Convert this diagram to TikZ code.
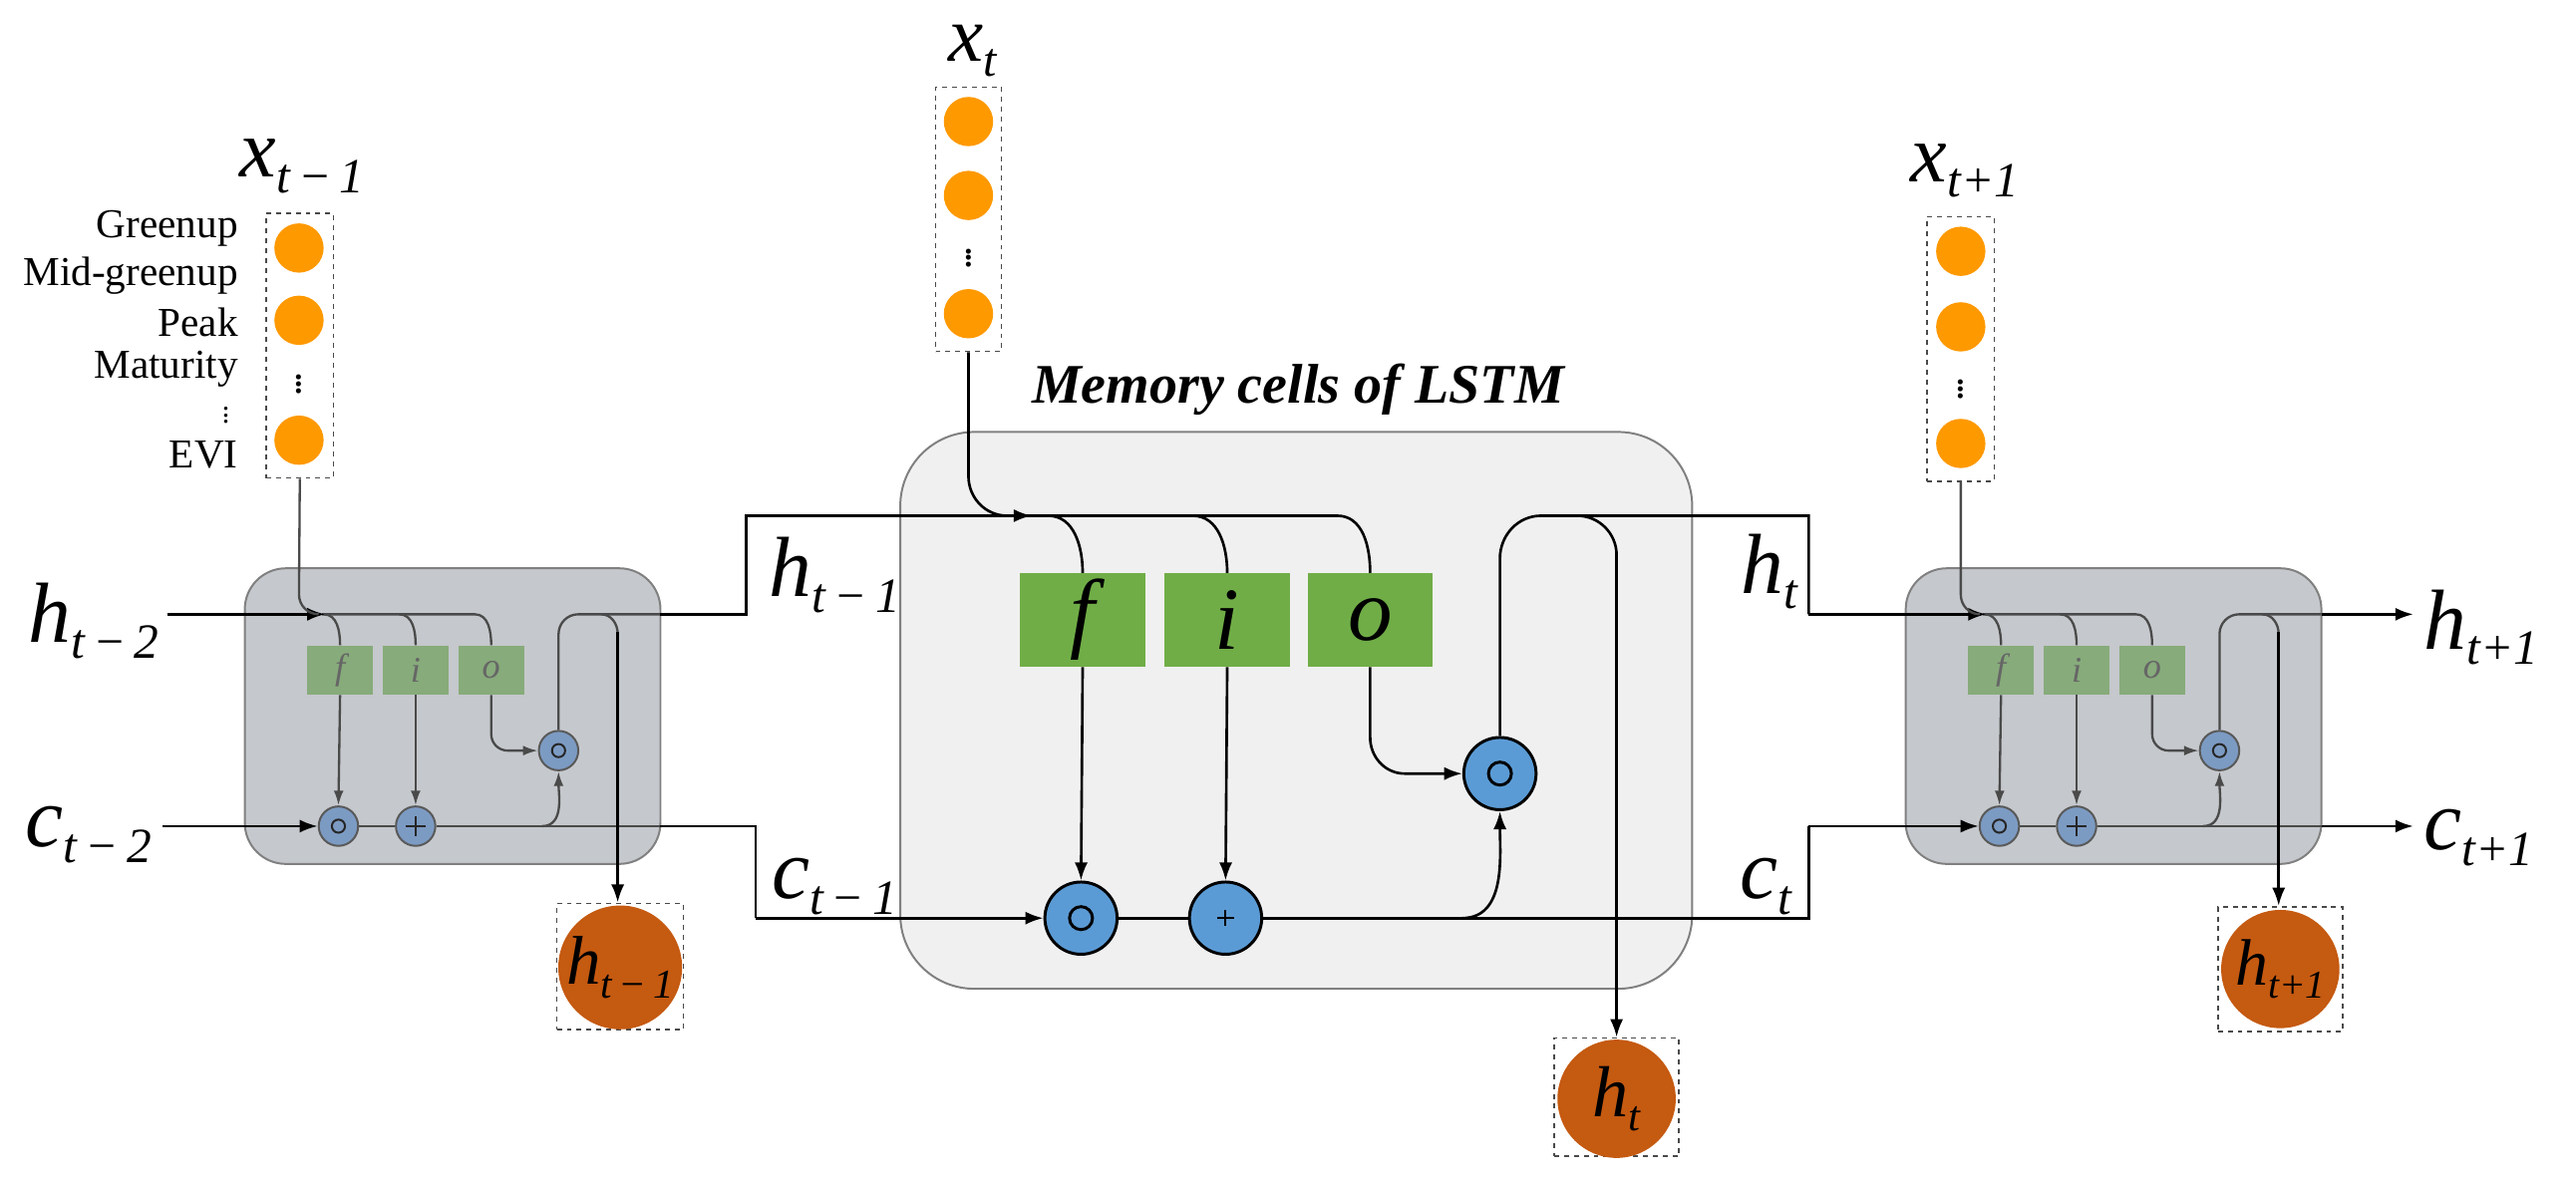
\documentclass[tikz,border=0pt]{standalone}
\usepackage{fontspec}
\setmainfont{Liberation Serif}
\usetikzlibrary{arrows.meta,calc}
\definecolor{orng}{HTML}{FF9900}
\definecolor{brwn}{HTML}{C55A11}
\definecolor{gbig}{HTML}{70AD47}
\definecolor{gsml}{HTML}{87AB7B}
\definecolor{bbig}{HTML}{5B9BD5}
\definecolor{bsml}{HTML}{7C9BC3}
\definecolor{cellS}{HTML}{C5C8CC}
\definecolor{cellB}{HTML}{F0F0F0}
\definecolor{ln}{HTML}{4A4A4A}
\newcommand\vlab[4]{{\fontsize{#3}{#3}\selectfont\itshape #1}{\fontsize{#4}{#4}\selectfont\itshape\raisebox{-0.32em}{#2}}}
\tikzset{
  blk/.style={line width=1.6pt, black},
  blka/.style={blk, -{Latex[length=11pt,width=8pt]}},
  sg/.style={line width=1.4pt, ln},
  sga/.style={sg, -{Latex[length=9pt,width=6pt]}},
  dbox/.style={draw=ln, dashed, line width=1pt, inner sep=0pt},
  inp/.style={circle, fill=orng, minimum size=30pt, inner sep=0pt},
  outc/.style={circle, fill=brwn, minimum size=72pt, inner sep=0pt},
  vd/.style={inner sep=0pt, font=\fontsize{26}{26}\selectfont},
  smallbox/.style={draw=gray, line width=1.2pt, fill=cellS, rounded corners=25pt, minimum width=253pt, minimum height=180pt},
  bigbox/.style={draw=gray, line width=1.2pt, fill=cellB, rounded corners=45pt, minimum width=482pt, minimum height=339pt},
  sgate/.style={fill=gsml, minimum width=40pt, minimum height=30pt, inner sep=0pt, text=gray!80!black, font=\fontsize{22}{22}\selectfont\itshape},
  bgate/.style={fill=gbig, minimum width=76pt, minimum height=57pt, inner sep=0pt, font=\fontsize{54}{54}\selectfont\itshape},
  sop/.style={circle, draw=gray!70!black, line width=1.2pt, fill=bsml, minimum size=24pt, inner sep=0pt},
  bop/.style={circle, draw=black, line width=1.8pt, fill=bbig, minimum size=44pt, inner sep=0pt},
  feat/.style={anchor=east, inner sep=0pt, font=\fontsize{25}{25}\selectfont},
}
\newcommand\smallcell[2]{%
\begin{scope}[xshift=#1pt]
\node[smallbox] (#2box) at (275.5,436) {};
\node[sgate] (#2f) at (207,408) {f};
\node[sgate] (#2i) at (253,408) {i};
\node[sgate] (#2o) at (299,408) {o};
\node[sop] (#2m) at (206,503) {};
\node[sop] (#2p) at (253,503) {};
\node[sop] (#2q) at (340,457) {};
\draw[line width=1.2pt, gray!30!black] (#2m) circle (4pt) (#2q) circle (4pt);
\draw[line width=1.2pt, gray!30!black] ($(#2p)+(-6,0)$) -- ($(#2p)+(6,0)$) ($(#2p)+(0,-6)$) -- ($(#2p)+(0,6)$);
\draw[sg] (196,374) -- (289,374) to[out=0,in=90] (#2o.north);
\draw[sg] (197,374) to[out=0,in=90] (#2f.north);
\draw[sg] (243,374) to[out=0,in=90] (#2i.north);
\draw[sga] (#2f.south) -- (#2m.north);
\draw[sga] (#2i.south) -- (#2p.north);
\draw[sga] (#2o.south) -- (299,447) to[out=-90,in=180] (309,457) -- (#2q.west);
\draw[sg] (#2m) -- (#2p);
\draw[sg] (#2p.east) -- (402,503);
\draw[sga] (330,503) to[out=0,in=-90] (#2q.south);
\draw[sg] (#2q.north) -- (340,386) to[out=90,in=180] (352,374) -- (402,374);
\end{scope}}
\begin{document}
\begin{tikzpicture}[x=1pt,y=-1pt]
\useasboundingbox (0,0) rectangle (1568,721);
% ---------- left cell
\smallcell{0}{L}
\node at (184,101) (xl) {\vlab{x}{t\,−\,1}{50}{30}};
\node[dbox, minimum width=41pt, minimum height=161pt] (xlb) at (182.5,210.5) {};
\node[inp] (xl1) at (182,151) {};
\node[inp] (xl2) at (182,195) {};
\node[inp] (xl3) at (182,268) {};
\node[vd] (xld) at (182,231) {$\vdots$};
\node[feat] (f1) at (145,139) {Greenup};
\node[feat] (f2) at (145,168) {Mid-greenup};
\node[feat] (f3) at (145,196) {Peak};
\node[feat] (f4) at (145,225) {Maturity};
\node[vd, anchor=east, font=\fontsize{18}{18}\selectfont] (f5) at (140,250) {$\vdots$};
\node[feat] (f6) at (145,277) {EVI};
\node (hm2) at (57,378) {\vlab{h}{t\,−\,2}{52}{30}};
\node (cm2) at (54,508) {\vlab{c}{t\,−\,2}{52}{30}};
\coordinate (hm2e) at (102,374);
\coordinate (cm2e) at (99,503);
\draw[blka] (hm2e) -- (198,374);
\draw[blka] (cm2e) -- (Lm.west);
\draw[sg] (xlb.south) -- (182,362) to[out=-90,in=180] (194,374);
\node[dbox, minimum width=77pt, minimum height=77pt] (hob1) at (377.5,588.5) {};
\node[outc] (ho1) at (377.5,589) {\vlab{h}{t\,−\,1}{42}{25}};
\draw[sg] (366,374) to[out=0,in=90] (376,386);
\draw[blka] (376,385) -- (hob1.north -| 376,0);
% ---------- center cell
\node[bigbox] (cbox) at (789,432.5) {};
\node[font=\fontsize{34}{34}\selectfont\bfseries\itshape] (title) at (790,237) {Memory cells of LSTM};
\node at (592,31) (xc) {\vlab{x}{t}{48}{29}};
\node[dbox, minimum width=40pt, minimum height=161pt] (xcb) at (589.5,133.5) {};
\node[inp] (xc1) at (589.5,74) {};
\node[inp] (xc2) at (589.5,119) {};
\node[inp] (xc3) at (589.5,191) {};
\node[vd] (xcd) at (589.5,154) {$\vdots$};
\node[bgate] (cf) at (659,377.5) {f};
\node[bgate] (ci) at (747,377.5) {i};
\node[bgate] (co) at (834,377.5) {o};
\node[bop] (cm) at (658,559) {};
\node[bop] (cp) at (746,559) {};
\node[bop] (cq) at (913,471) {};
\draw[line width=1.8pt] (cm) circle (7pt) (cq) circle (7pt);
\draw[line width=1.2pt] ($(cp)+(-5,0)$) -- ($(cp)+(5,0)$) ($(cp)+(0,-5)$) -- ($(cp)+(0,5)$);
% left -> center
\draw[blk] (402,374) -- (454,374) -- (454,314) -- (626,314);
\draw[blka] (454,314) -- (628,314);
\draw[blk] (xcb.south) -- (589.5,290) to[out=-90,in=180] (613,314);
\draw[blk] (626,314) -- (814,314) to[out=0,in=90] (co.north);
\draw[blk] (638,314) to[out=0,in=90] (cf.north);
\draw[blk] (726,314) to[out=0,in=90] (ci.north);
\draw[blka] (cf.south) -- (cm.north);
\draw[blka] (ci.south) -- (cp.north);
\draw[blka] (co.south) -- (834,449) to[out=-90,in=180] (855,471) -- (cq.west);
\draw[blk] (402,503) -- (460,503) -- (460,559);
\draw[blka] (460,559) -- (cm.west);
\draw[blk] (cm) -- (cp);
\draw[blk] (cp.east) -- (1101,559) -- (1101,503);
\draw[blka] (890,559) to[out=0,in=-90] (cq.south);
\draw[blk] (cq.north) -- (913,340) to[out=90,in=180] (938,314) -- (1101,314) -- (1101,374);
\draw[blk] (960,314) to[out=0,in=90] (984,338);
\node[dbox, minimum width=76pt, minimum height=72pt] (hob2) at (984,668) {};
\node[outc] (ho2) at (984,669) {\vlab{h}{t}{44}{26}};
\draw[blka] (984,337) -- (hob2.north);
\node (hlab1) at (508,350) {\vlab{h}{t\,−\,1}{52}{30}};
\node (clab1) at (508,540) {\vlab{c}{t\,−\,1}{52}{30}};
\node (hlab2) at (1077,348) {\vlab{h}{t}{52}{30}};
\node (clab2) at (1075,540) {\vlab{c}{t}{52}{30}};
% ---------- right cell
\smallcell{1011}{R}
\node at (1196,104) (xr) {\vlab{x}{t+1}{50}{30}};
\node[dbox, minimum width=41pt, minimum height=161pt] (xrb) at (1193.5,212.5) {};
\node[inp] (xr1) at (1193.5,153) {};
\node[inp] (xr2) at (1193.5,199) {};
\node[inp] (xr3) at (1193.5,270) {};
\node[vd] (xrd) at (1193.5,234) {$\vdots$};
\draw[blka] (1101,374) -- (1209,374);
\draw[blka] (1101,503) -- (Rm.west);
\draw[sg] (xrb.south) -- (1193.5,362) to[out=-90,in=180] (1205,374);
\coordinate (hpe) at (1469,374);
\coordinate (cpe) at (1469,503);
\draw[blka] (1413,374) -- (hpe);
\draw[blka] (1413,503) -- (cpe);
\node[anchor=west] (hp1) at (1472,382) {\vlab{h}{t+1}{52}{30}};
\node[anchor=west] (cp1) at (1472,510) {\vlab{c}{t+1}{52}{30}};
\node[dbox, minimum width=76pt, minimum height=76pt] (hob3) at (1388,590) {};
\node[outc] (ho3) at (1388,590) {\vlab{h}{t+1}{40}{24}};
\draw[sg] (1377,374) to[out=0,in=90] (1387,386);
\draw[blka] (1387,385) -- (hob3.north -| 1387,0);
\end{tikzpicture}
\end{document}
